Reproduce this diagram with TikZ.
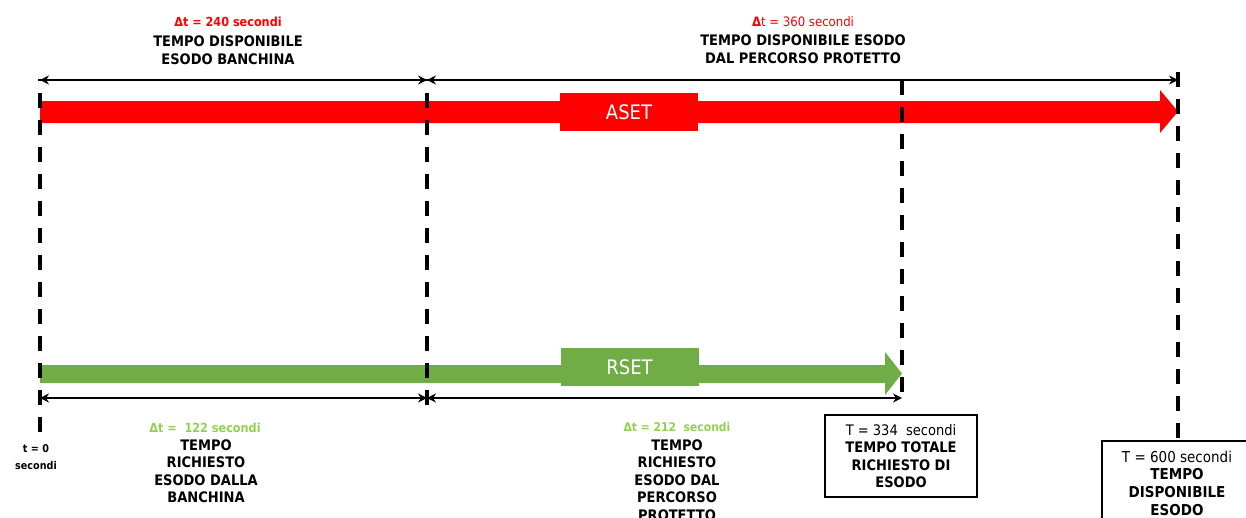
\documentclass[tikz,border=0pt]{standalone}
\usepackage{fontspec}
\setmainfont{DejaVu Sans Condensed}
\usetikzlibrary{arrows.meta}
\definecolor{aset}{HTML}{FF0000}
\definecolor{rset}{HTML}{70AD47}
\definecolor{lgreen}{HTML}{92D050}
\tikzset{
  vdash/.style={line width=4pt, dash pattern=on 15pt off 12pt},
  dim/.style={line width=2.4pt, {Stealth[length=9pt,width=9pt]}-{Stealth[length=9pt,width=9pt]}},
  lbl/.style={align=center, inner sep=0pt},
  big/.style={font=\bfseries\fontsize{14.5}{17.5}\selectfont},
  bar/.style={minimum width=138pt, text=white, font=\fontsize{20}{22}\selectfont, inner sep=0pt}
}
\begin{document}
\begin{tikzpicture}[x=1pt,y=-1pt]
\useasboundingbox (0,0) rectangle (1246,517);
\clip (0,0) rectangle (1246,517);
% coordinates
\coordinate (a0) at (40,80);
\coordinate (a1) at (427,80);
\coordinate (a2) at (1178,80);
\coordinate (b0) at (40,398);
\coordinate (b1) at (427,398);
\coordinate (b2) at (902,398);
% red arrow
\fill[aset] (40,101) -- (1160,101) -- (1160,90) -- (1178,111.5) -- (1160,133) -- (1160,123) -- (40,123) -- cycle;
\node[bar, fill=aset, minimum height=38pt] (aset) at (629,112) {ASET};
% green arrow
\fill[rset] (40,365) -- (885,365) -- (885,352) -- (902,373.5) -- (885,395) -- (885,383) -- (40,383) -- cycle;
\node[bar, fill=rset, minimum height=38pt] (rset) at (629.5,367) {RSET};
% dashed verticals
\draw[vdash] (40,432) -- (40,79);
\draw[vdash] (427,405) -- (427,79);
\draw[vdash] (902,80) -- (902,398);
\draw[vdash] (1178,72) -- (1178,440);
% dimension arrows
\draw[dim] (a0) -- (a1);
\draw[dim] (a1) -- (a2);
\draw[dim] (b0) -- (b1);
\draw[dim] (b1) -- (b2);
% top labels
\node[lbl, text=aset, font=\bfseries\fontsize{12.5}{15}\selectfont] (d1) at (228,22) {Δt = 240 secondi};
\node[lbl, big] (l1) at (228,50) {TEMPO DISPONIBILE\\ESODO BANCHINA};
\node[lbl, text=aset, font=\fontsize{13}{15}\selectfont] (d2) at (803,22) {{\bfseries Δ}t = 360 secondi};
\node[lbl, font=\bfseries\fontsize{14.5}{18}\selectfont] (l2) at (803,49) {TEMPO DISPONIBILE ESODO\\DAL PERCORSO PROTETTO};
% bottom labels
\node[lbl, text=lgreen, font=\bfseries\fontsize{12.5}{15}\selectfont] (d3) at (205,428) {Δt =\ \ 122 secondi};
\node[lbl, big] (l3) at (206,471) {TEMPO\\RICHIESTO\\ESODO DALLA\\BANCHINA};
\node[lbl, font=\bfseries\fontsize{10.7}{17}\selectfont] (t0) at (36,457.5) {t = 0\\secondi};
\node[lbl, text=lgreen, font=\bfseries\fontsize{12}{15}\selectfont] (d4) at (677,427) {Δt = 212\ \ secondi};
\node[lbl, big] (l4) at (677,480) {TEMPO\\RICHIESTO\\ESODO DAL\\PERCORSO\\PROTETTO};
% boxes
\node[draw, line width=2.4pt, minimum width=152pt, minimum height=82pt] (T334) at (901,456) {};
\node[lbl, big] (T334t) at (T334.center)
  {{\mdseries T = 334\ \ secondi}\\TEMPO TOTALE\\RICHIESTO DI\\ESODO};
\node[draw, line width=2.4pt, minimum width=160pt, minimum height=90pt, anchor=north west] (T600) at (1101,440) {};
\node[lbl, font=\bfseries\fontsize{15}{17.7}\selectfont] (T600t) at (1177,483)
  {{\mdseries T = 600 secondi}\\TEMPO\\DISPONIBILE\\ESODO};
\end{tikzpicture}
\end{document}
